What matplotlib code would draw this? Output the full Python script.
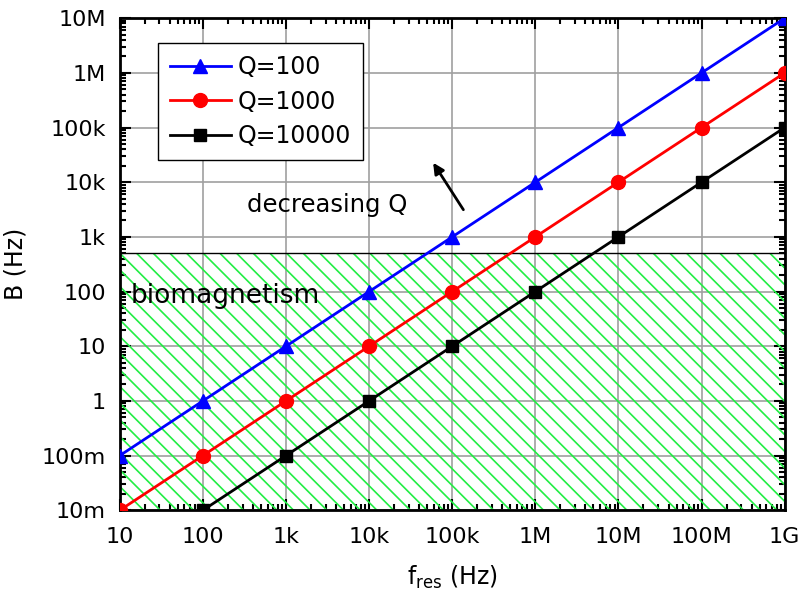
import matplotlib.pyplot as plt
import matplotlib.ticker as mticker

plt.rcParams['font.family'] = ['DejaVu Sans']
plt.rcParams['mathtext.fontset'] = 'dejavusans'
plt.rcParams['hatch.linewidth'] = 1.2
plt.rcParams['hatch.color'] = '#22ee44'

# resonance frequency (Hz) and bandwidth B = f/Q (Hz)
f_res = [1e1, 1e2, 1e3, 1e4, 1e5, 1e6, 1e7, 1e8, 1e9]
b_q100 = [1e-1, 1e0, 1e1, 1e2, 1e3, 1e4, 1e5, 1e6, 1e7]
b_q1000 = [1e-2, 1e-1, 1e0, 1e1, 1e2, 1e3, 1e4, 1e5, 1e6]
b_q10000 = [1e-3, 1e-2, 1e-1, 1e0, 1e1, 1e2, 1e3, 1e4, 1e5]
biomag_max = 500  # Hz

x_ticks = [1e1, 1e2, 1e3, 1e4, 1e5, 1e6, 1e7, 1e8, 1e9]
x_labels = ['10', '100', '1k', '10k', '100k', '1M', '10M', '100M', '1G']
y_ticks = [1e-2, 1e-1, 1e0, 1e1, 1e2, 1e3, 1e4, 1e5, 1e6, 1e7]
y_labels = ['10m', '100m', '1', '10', '100', '1k', '10k', '100k', '1M', '10M']

fig = plt.figure(figsize=(8.04, 6.06), dpi=100)
ax = fig.add_axes([0.149, 0.158, 0.827, 0.812])

# biomagnetism band
ax.fill_between([1e1, 1e9], 1e-2, biomag_max, facecolor='none',
                edgecolor='#22ee44', hatch='\\\\', linewidth=0, zorder=1)
ax.axhline(biomag_max, color='black', lw=1, zorder=2)

ax.plot(f_res, b_q100, color='blue', marker='^', ms=10, lw=2, label='Q=100', zorder=4)
ax.plot(f_res, b_q1000, color='red', marker='o', ms=10, lw=2, label='Q=1000', zorder=4)
ax.plot(f_res, b_q10000, color='black', marker='s', ms=8, lw=2, label='Q=10000', zorder=4)

ax.set_xscale('log')
ax.set_yscale('log')
ax.set_xlim(1e1, 1e9)
ax.set_ylim(1e-2, 1e7)
ax.set_xticks(x_ticks)
ax.set_xticklabels(x_labels)
ax.set_yticks(y_ticks)
ax.set_yticklabels(y_labels)
ax.xaxis.set_minor_locator(mticker.LogLocator(base=10, subs=range(2, 10), numticks=20))
ax.yaxis.set_minor_locator(mticker.LogLocator(base=10, subs=range(2, 10), numticks=20))
ax.xaxis.set_minor_formatter(mticker.NullFormatter())
ax.yaxis.set_minor_formatter(mticker.NullFormatter())
ax.tick_params(which='both', direction='in', top=True, right=True, width=1.5, labelsize=16)
ax.tick_params(which='major', length=8)
ax.tick_params(axis='x', which='major', pad=12)
ax.tick_params(axis='y', which='major', pad=10)
ax.tick_params(which='minor', length=4)
for s in ax.spines.values():
    s.set_linewidth(2)

ax.grid(True, which='major', color='#a0a0a0', lw=1.2, zorder=0)
ax.set_axisbelow(True)

ax.set_xlabel(r'f$_{\mathrm{res}}$ (Hz)', fontsize=17, labelpad=12)
ax.set_ylabel('B (Hz)', fontsize=17, labelpad=10)

ax.text(0.016, 0.435, 'biomagnetism', transform=ax.transAxes, fontsize=19,
        va='center', ha='left', zorder=5)
ax.text(0.192, 0.62, 'decreasing Q', transform=ax.transAxes, fontsize=17.5,
        va='center', ha='left', zorder=5)
ax.annotate('', xy=(0.469, 0.711), xytext=(0.519, 0.606), xycoords='axes fraction',
            arrowprops=dict(arrowstyle='-|>', color='black', lw=2, mutation_scale=16))

leg = ax.legend(loc='upper left', bbox_to_anchor=(0.057, 0.949), fontsize=17,
                fancybox=False, framealpha=1, edgecolor='black', handlelength=2.6,
                handletextpad=0.3, borderpad=0.5, labelspacing=0.45, borderaxespad=0)
leg.get_frame().set_linewidth(1)

fig.savefig('out.png', dpi=100)
